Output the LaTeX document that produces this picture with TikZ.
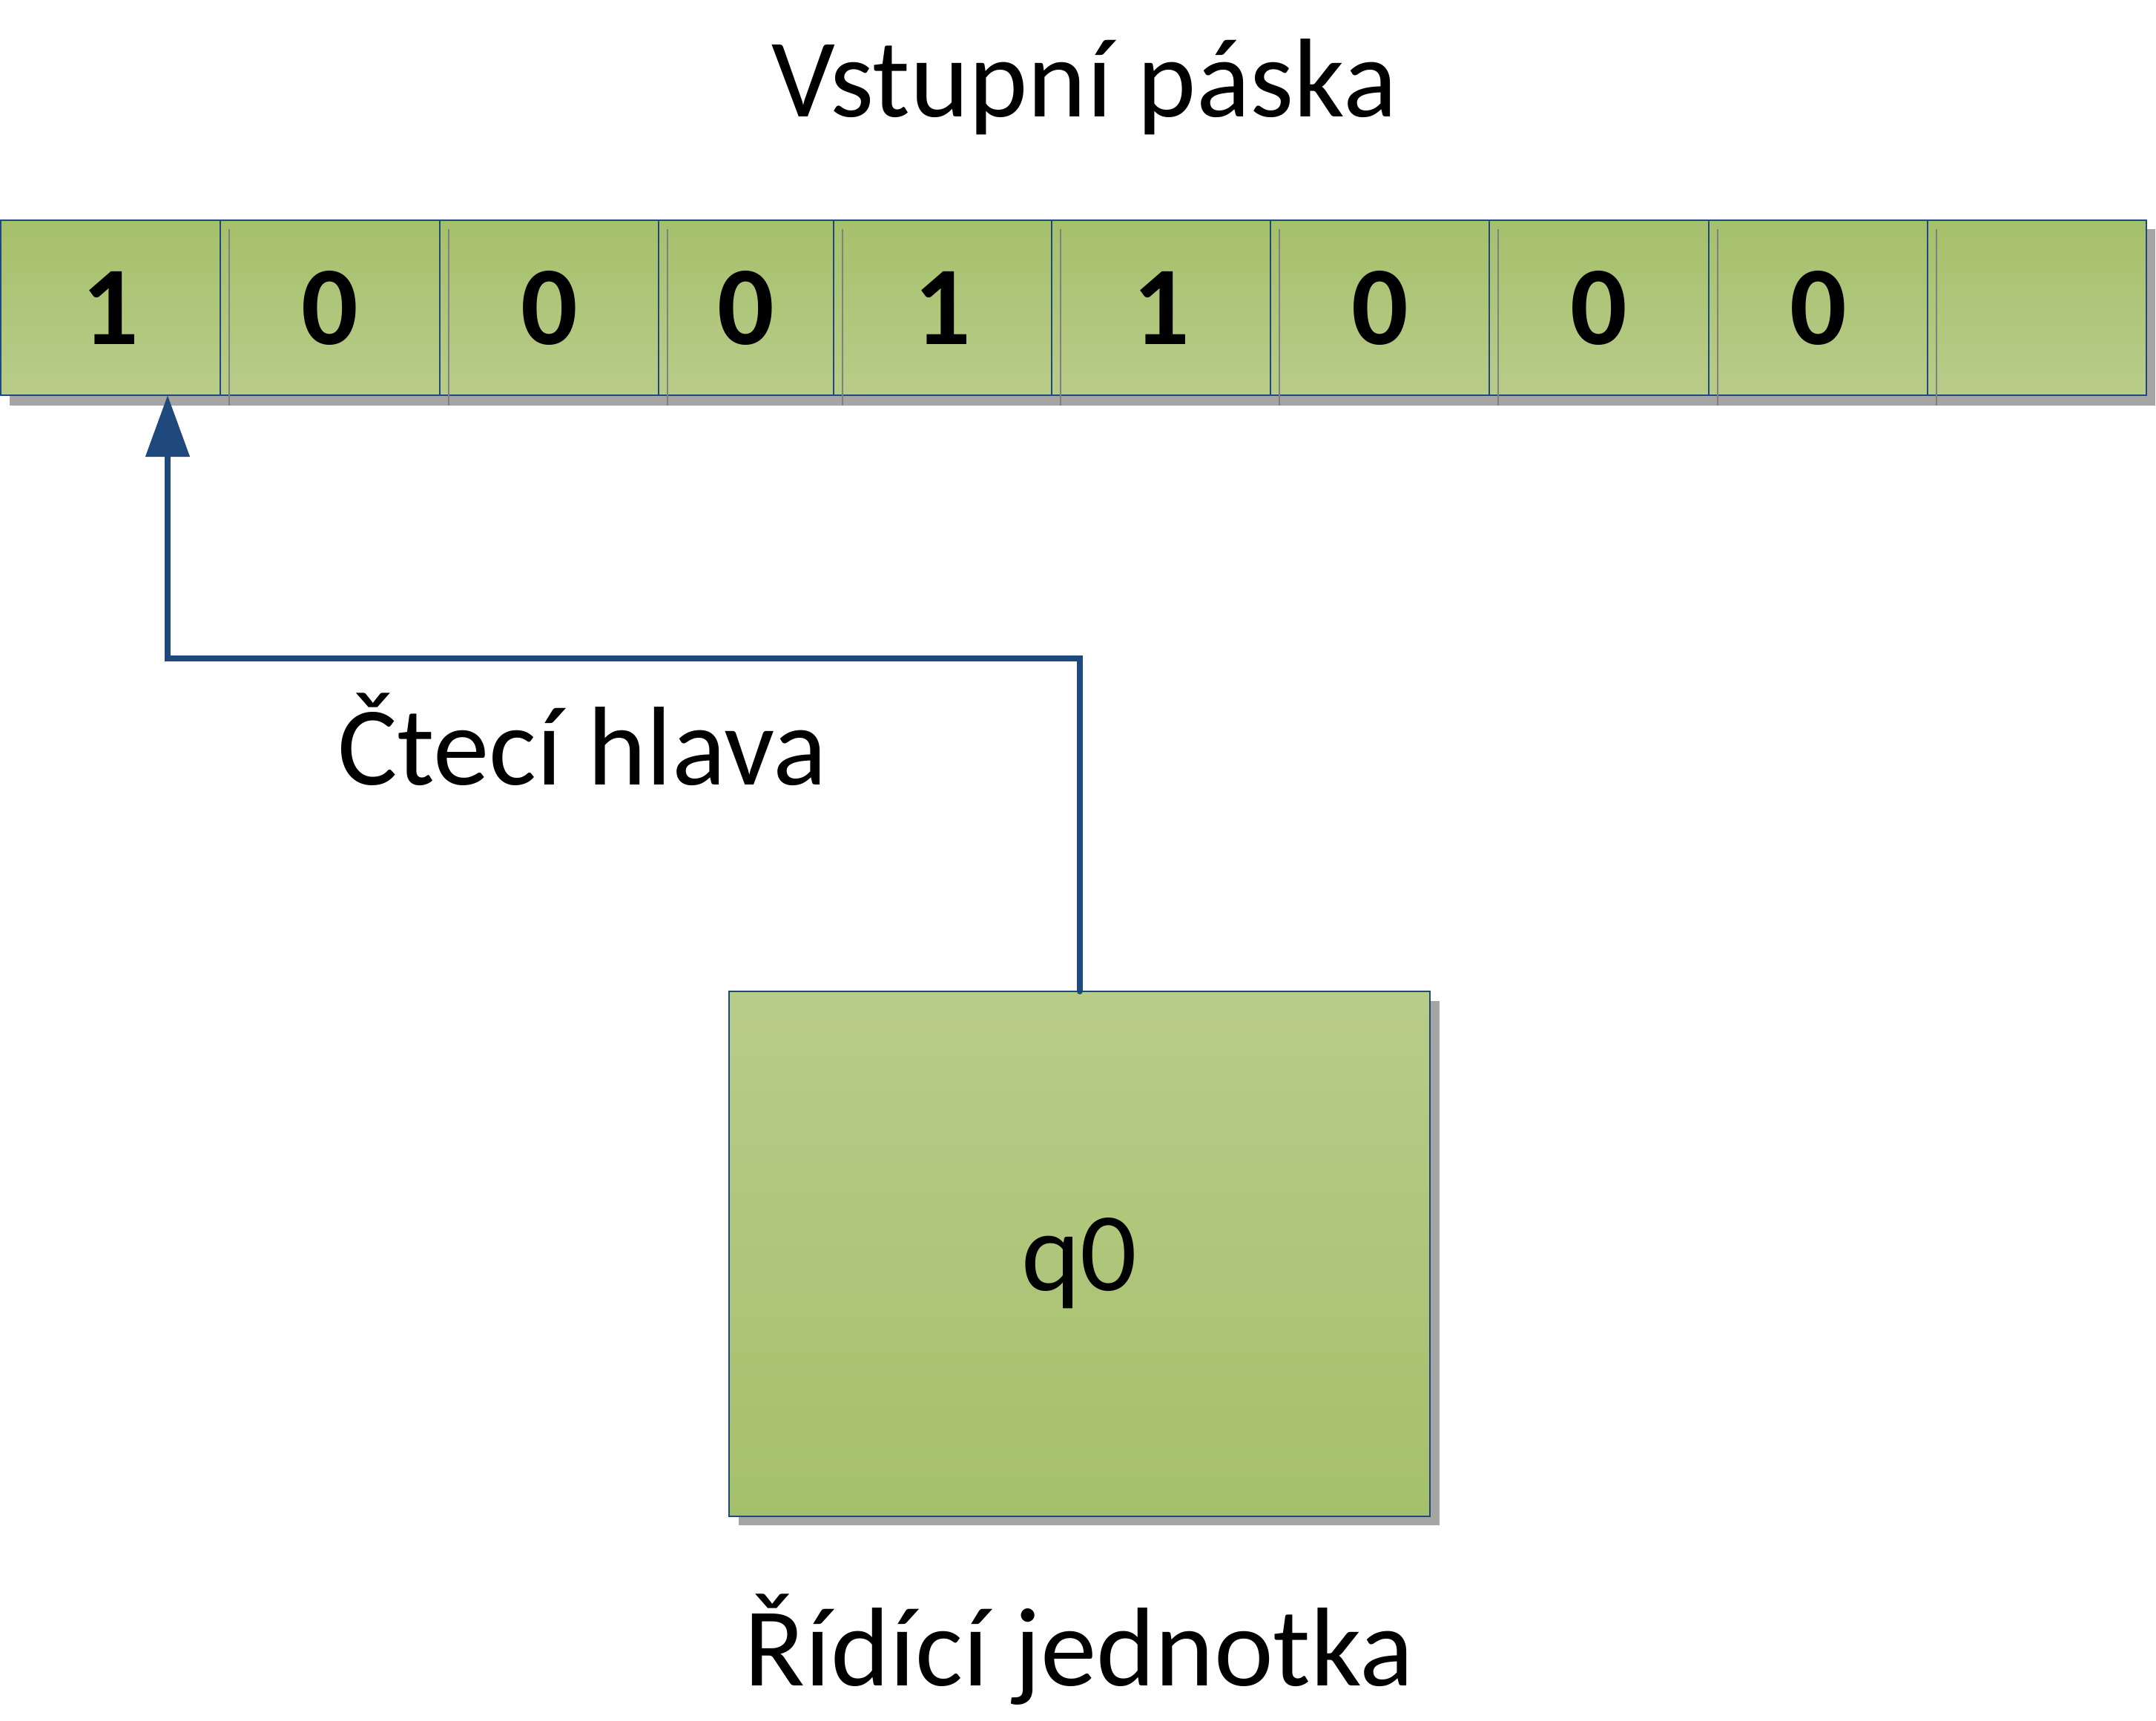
\documentclass[tikz,border=0pt]{standalone}
\usepackage{fontspec}
\setmainfont{Carlito}
\usetikzlibrary{arrows.meta,positioning}
\definecolor{TapeGreen}{HTML}{A5C06B}
\definecolor{TapeLight}{HTML}{B8CC89}
\definecolor{FrameBlue}{HTML}{1F497D}
\definecolor{ShadowGray}{HTML}{A5A5A5}
\definecolor{SeamGray}{HTML}{808080}

\begin{document}
\begin{tikzpicture}[
  every node/.style={font=\fontsize{43}{50}\selectfont},
  cell/.style={draw=FrameBlue, line width=0.6pt, top color=TapeGreen, bottom color=TapeLight,
    minimum height=2.36cm, inner sep=0pt, outer sep=0pt, anchor=north west,
    font=\fontsize{43}{50}\selectfont\bfseries},
  ctrlbox/.style={draw=FrameBlue, line width=0.8pt, top color=TapeLight, bottom color=TapeGreen,
    minimum width=9.45cm, minimum height=7.08cm, inner sep=0pt, outer sep=0pt, text depth=0pt},
  seam/.style={SeamGray, line width=0.6pt},
  headline/.style={draw=FrameBlue, line width=0.08cm, line cap=round,
    -{Triangle[length=0.83cm, width=0.58cm]}}
]
  \useasboundingbox (0,0) rectangle (29.07,-23.20);

  % shadows
  \fill[ShadowGray] (0.13,-3.09) rectangle (29.06,-5.47);
  \fill[ShadowGray] (9.96,-13.50) rectangle (19.41,-20.57);

  % input tape
  \foreach \xl/\xr/\d [count=\i] in {0.01/2.97/1, 2.97/5.93/0, 5.93/8.88/0, 8.88/11.24/0,
      11.24/14.18/1, 14.18/17.13/1, 17.13/20.08/0, 20.08/23.04/0, 23.04/25.99/0, 25.99/28.94/{}}
    \node[cell, minimum width={(\xr-\xl)*1cm}] (c\i) at (\xl,-2.97) {\d};
  \foreach \x in {3.09,6.05,9.00,11.36,14.30,17.25,20.20,23.16,26.11}
    \draw[seam] (\x,-3.09) -- (\x,-5.47);

  % control unit
  \node[ctrlbox] (ctrl) at (14.555,-16.91) {q0};

  % read head
  \coordinate (turn) at (2.26,-8.88);
  \draw[headline] (ctrl.north) |- (turn) -- (turn |- c1.south);

  % labels
  \node[anchor=base] (title) at (14.62,-1.57) {Vstupní páska};
  \node[anchor=base] (headlabel) at (7.85,-10.58) {Čtecí hlava};
  \node[anchor=base] (unitlabel) at (14.55,-22.73) {Řídící jednotka};
\end{tikzpicture}
\end{document}
